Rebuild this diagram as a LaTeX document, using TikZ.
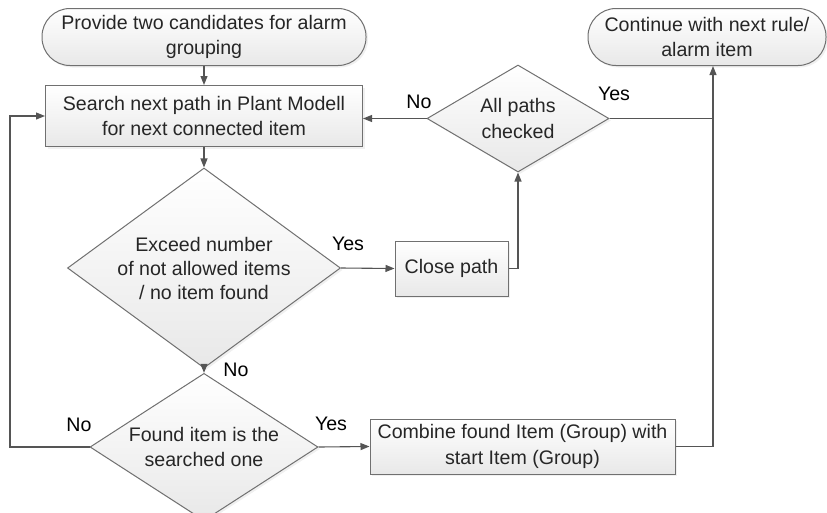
\documentclass[tikz,border=0pt]{standalone}
\usepackage{fontspec}
\setmainfont{Liberation Sans}
\usetikzlibrary{shapes.geometric,arrows.meta,shadows}
\definecolor{linec}{HTML}{555555}
\definecolor{bordc}{HTML}{707070}
\definecolor{txtc}{HTML}{262626}
\tikzset{
  base/.style={draw=bordc, line width=1pt, top color=white, bottom color=black!9,
    text=txtc, align=center, inner sep=0pt,
    font=\fontsize{19.6}{25.5}\selectfont,
    drop shadow={opacity=0.12, shadow xshift=2pt, shadow yshift=-2pt}},
  term/.style={base, rectangle, rounded corners=28pt},
  procbox/.style={base, rectangle},
  decide/.style={base, diamond, aspect=1.4},
  arr/.style={draw=linec, line width=1.1pt, -{Triangle[length=9pt,width=7pt]}},
  ln/.style={draw=linec, line width=1.1pt},
  lbl/.style={font=\fontsize{19.6}{24}\selectfont, text=black, inner sep=0pt}
}
\begin{document}
\begin{tikzpicture}[x=1pt,y=-1pt]
\useasboundingbox (0,0) rectangle (827,512);
\node[term, minimum width=324pt, minimum height=57pt] (start) at (204,37) {Provide two candidates for alarm\\grouping};
\node[procbox, minimum width=317pt, minimum height=61pt] (search) at (204,116) {Search next path in Plant Modell\\for next connected item};
\node[decide, minimum width=273pt, minimum height=200pt, font=\fontsize{19.6}{24}\selectfont] (d1) at (204,268) {Exceed number\\of not allowed items\\/ no item found};
\node[procbox, minimum width=113pt, minimum height=55pt] (close) at (451.5,268.5) {Close path};
\node[decide, minimum width=182pt, minimum height=107pt] (d2) at (518,118.5) {All paths\\checked};
\node[decide, minimum width=228pt, minimum height=132pt] (d3) at (204,447) {Found item is the\\searched one};
\node[procbox, minimum width=305pt, minimum height=55pt] (comb) at (522.5,446.5) {Combine found Item (Group) with\\start Item (Group)};
\node[term, minimum width=238pt, minimum height=57pt] (end) at (707,37) {Continue with next rule/\\alarm item};

\coordinate (j1) at (713,118.5);
\coordinate (c1) at (10,447);

\draw[arr] (start) -- (search);
\draw[arr] (search) -- (d1);
\draw[arr] (d1.east) -- (close.west);
\draw[arr] (close.east) -| (d2.south);
\draw[arr] (d2.west) -- (search.east |- d2.west);
\draw[ln] (d2.east) -- (j1);
\draw[arr] (d1.south) -- (d3.north);
\draw[arr] (d3.east) -- (comb.west);
\draw[arr] (d3.west) -- (c1) |- (search.west);
\draw[arr] (comb.east) -| (end.south -| j1);

\node[lbl] (yes1) at (348,244) {Yes};
\node[lbl] (no1) at (419,102) {No};
\node[lbl] (yes2) at (614,94) {Yes};
\node[lbl] (no2) at (236,370) {No};
\node[lbl] (no3) at (79,425) {No};
\node[lbl] (yes3) at (331,424) {Yes};
\end{tikzpicture}
\end{document}
